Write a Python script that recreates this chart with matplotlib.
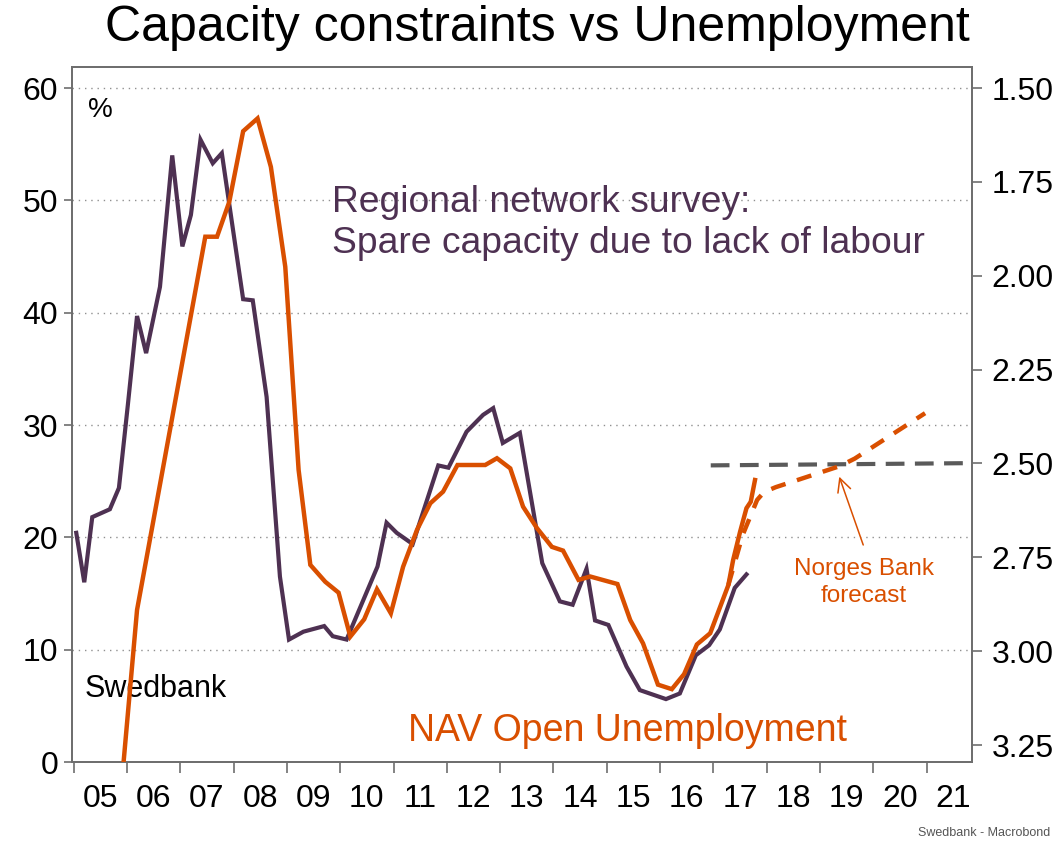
import matplotlib
matplotlib.use("Agg")
import matplotlib.pyplot as plt
from matplotlib.ticker import FixedLocator, NullFormatter, FixedFormatter

plt.rcParams['font.family'] = ['Liberation Sans', 'DejaVu Sans']

# ---------------- data ----------------
survey_x = [2005.05, 2005.20, 2005.35, 2005.68, 2005.85, 2006.02, 2006.19, 2006.36, 2006.62,
            2006.85, 2007.04, 2007.20, 2007.38, 2007.61, 2007.78, 2008.18, 2008.36, 2008.62,
            2008.87, 2009.04, 2009.31, 2009.70, 2009.86, 2010.12, 2010.70, 2010.87, 2011.06,
            2011.36, 2011.84, 2012.03, 2012.37, 2012.68, 2012.87, 2013.05, 2013.37, 2013.79,
            2014.12, 2014.36, 2014.62, 2014.78, 2015.03, 2015.37, 2015.62, 2016.11, 2016.37,
            2016.67, 2016.92, 2017.12, 2017.40, 2017.62]
survey_y = [20.4, 16.0, 21.8, 22.5, 24.4, 31.9, 39.7, 36.4, 42.3,
            54.0, 45.9, 48.7, 55.4, 53.3, 54.2, 41.2, 41.1, 32.5,
            16.5, 10.9, 11.6, 12.1, 11.2, 10.9, 17.4, 21.3, 20.4,
            19.4, 26.4, 26.2, 29.4, 30.9, 31.5, 28.4, 29.3, 17.7,
            14.3, 14.0, 17.2, 12.6, 12.2, 8.5, 6.4, 5.6, 6.1,
            9.5, 10.4, 11.8, 15.5, 16.7]

nav_x = [2005.76, 2006.19, 2007.47, 2007.69, 2007.92, 2008.18, 2008.45, 2008.70, 2008.97,
         2009.22, 2009.44, 2009.72, 2009.97, 2010.19, 2010.45, 2010.69, 2010.95, 2011.18,
         2011.44, 2011.69, 2011.93, 2012.20, 2012.72, 2012.94, 2013.19, 2013.43, 2013.69,
         2013.97, 2014.18, 2014.47, 2014.69, 2015.20, 2015.44, 2015.68, 2015.96, 2016.22,
         2016.45, 2016.69, 2016.94, 2017.28, 2017.37, 2017.50, 2017.62, 2017.70, 2017.78]
nav_y = [3.58, 2.89, 1.896, 1.896, 1.803, 1.615, 1.581, 1.710, 1.976,
         2.517, 2.770, 2.815, 2.844, 2.961, 2.915, 2.835, 2.899, 2.775,
         2.677, 2.606, 2.575, 2.504, 2.504, 2.486, 2.513, 2.615, 2.672,
         2.722, 2.732, 2.810, 2.801, 2.821, 2.917, 2.979, 3.089, 3.101,
         3.061, 2.982, 2.952, 2.824, 2.757, 2.682, 2.619, 2.602, 2.544]

fc_x = [2017.28, 2017.55, 2017.82, 2017.95, 2018.17, 2019.37, 2019.65, 2020.97]
fc_y = [2.824, 2.690, 2.597, 2.576, 2.563, 2.507, 2.487, 2.366]

nairu_x = [2016.95, 2021.85]
nairu_y = [2.505, 2.499]

years = list(range(2005, 2022))
year_labels = [f"{y % 100:02d}" for y in years]
left_ticks = [0, 10, 20, 30, 40, 50, 60]
right_ticks = [1.50, 1.75, 2.00, 2.25, 2.50, 2.75, 3.00, 3.25]

# ---------------- style ----------------
PURPLE = '#4e3152'
ORANGE = '#d94f00'
GREY = '#5a5a5a'
SPINE = '#6e6e6e'

fig = plt.figure(figsize=(10.58, 8.44), dpi=100)
ax = fig.add_axes([72/1058, 1-762/844, 900/1058, 695/844])
ax2 = ax.twinx()

ax.set_xlim(2004.97, 2021.85)
ax.set_ylim(0, 61.87)
ax2.set_ylim(3.295, 1.444)

ax.plot(survey_x, survey_y, color=PURPLE, lw=3.0, zorder=3, solid_joinstyle='miter')
ax2.plot(nav_x, nav_y, color=ORANGE, lw=3.2, zorder=4, solid_joinstyle='miter')
ax2.plot(fc_x, fc_y, color=ORANGE, lw=3.2, ls=(0, (3.4, 2.7)), zorder=4)
ax2.plot(nairu_x, nairu_y, color=GREY, lw=3.0, ls=(0, (4.5, 2.5)), zorder=3)

ax.set_zorder(2)
ax2.set_zorder(3)
ax.patch.set_visible(False)

# grid
for v in left_ticks:
    ax.axhline(v, color='#909090', lw=1.0, ls=(0, (1, 3.5)), zorder=1)

# ticks
ax.xaxis.set_major_locator(FixedLocator(years + [2022]))
ax.xaxis.set_major_formatter(NullFormatter())
ax.xaxis.set_minor_locator(FixedLocator([y + 0.5 for y in years]))
ax.xaxis.set_minor_formatter(FixedFormatter(year_labels))
ax.tick_params(axis='x', which='major', length=8, width=1.2, color=SPINE, direction='out')
ax.tick_params(axis='x', which='minor', length=0, pad=16, labelsize=23)

ax.set_yticks(left_ticks)
ax.tick_params(axis='y', length=6, width=1.2, color=SPINE, labelsize=23, pad=4)
ax2.set_yticks(right_ticks)
ax2.set_yticklabels([f"{v:.2f}" for v in right_ticks])
ax2.tick_params(axis='y', length=7, width=1.2, color=SPINE, labelsize=23, pad=7)

for a in (ax, ax2):
    for s in a.spines.values():
        s.set_color(SPINE)
        s.set_linewidth(1.3)

# texts
fig.text(537/1058, 1-28/844, "Capacity constraints vs Unemployment", ha='center', va='center',
         fontsize=36, color='black')
ax.text(2005.27, 58.0, "%", fontsize=20, ha='left', va='center', color='black')
ax.text(2009.85, 48.0, "Regional network survey:\nSpare capacity due to lack of labour",
        fontsize=26.8, color=PURPLE, ha='left', va='center', linespacing=1.22)
ax.text(2005.2, 6.5, "Swedbank", fontsize=22, color='black', ha='left', va='center', zorder=10,
        bbox=dict(facecolor='white', edgecolor='none', pad=1))
ax.text(2011.27, 2.8, "NAV Open Unemployment", fontsize=27, color=ORANGE, ha='left', va='center', zorder=10)
ax2.annotate("", xy=(2019.36, 2.535), xytext=(2019.81, 2.717),
             arrowprops=dict(arrowstyle='->', color=ORANGE, lw=1.1, shrinkA=0, shrinkB=0,
                             mutation_scale=24))
ax2.text(2019.82, 2.818, "Norges Bank\nforecast", fontsize=17.5, color=ORANGE, ha='center', va='center',
         linespacing=1.3)
fig.text(1050/1058, 1-833/844, "Swedbank - Macrobond", fontsize=9, color='#555555', ha='right', va='center')

fig.savefig("out.png", dpi=100)
